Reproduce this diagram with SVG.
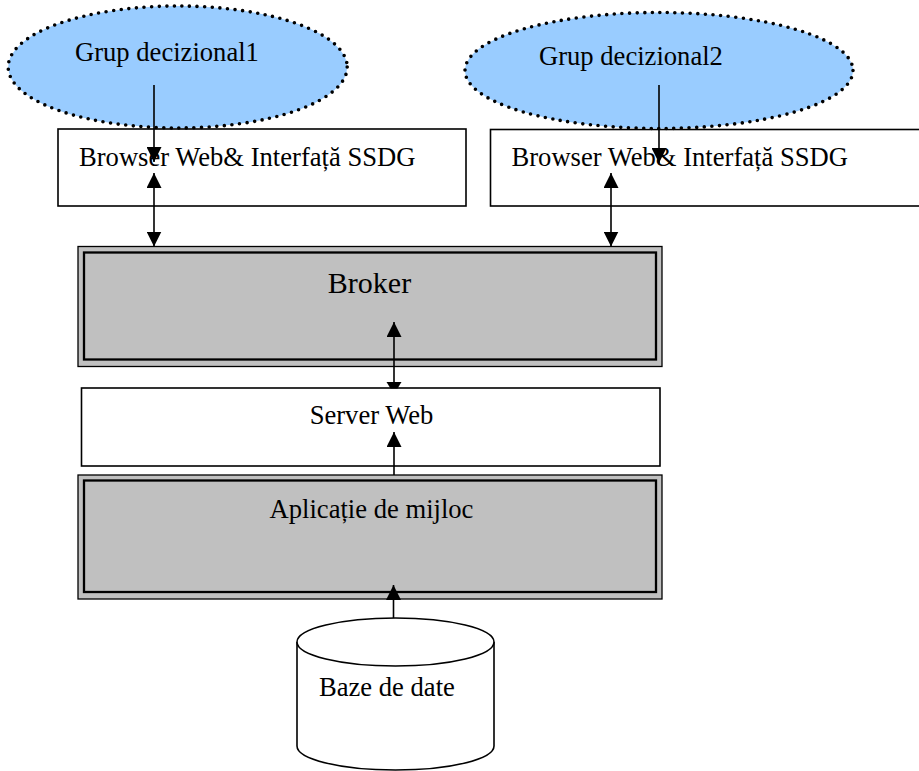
<svg xmlns="http://www.w3.org/2000/svg" width="919" height="771" viewBox="0 0 919 771">
  <style>
    .t { font-family: "Liberation Serif", "Times New Roman", serif; font-size: 26.6px; fill: #000; }
    .box { fill: #fff; stroke: #000; stroke-width: 1.6; }
    .gray-out { fill: #c0c0c0; stroke: #000; stroke-width: 1.3; }
    .gray-in { fill: #c0c0c0; stroke: #000; stroke-width: 2.3; }
    .cloud { fill: #99ccff; stroke: #000; stroke-width: 3.6; stroke-dasharray: 0 7.6; stroke-linecap: round; }
    .cyl { fill: #fff; stroke: #000; stroke-width: 1.6; }
    .conn { stroke: #000; stroke-width: 1.6; fill: none; }
    .head { fill: #000; }
  </style>
  <defs>
    <marker id="ah" markerUnits="userSpaceOnUse" markerWidth="15" markerHeight="15" refX="15" refY="7.5" orient="auto-start-reverse">
      <path d="M0,0 L15,7.5 L0,15 Z" fill="#000"/>
    </marker>
  </defs>
  <rect x="0" y="0" width="919" height="771" fill="#fff"/>

  <g id="browser1">
    <rect class="box" x="58" y="129" width="408" height="77"/>
    <text class="t" x="79" y="166">Browser Web&amp; Interfață SSDG</text>
  </g>
  <g id="browser2">
    <rect class="box" x="490.5" y="129.5" width="440" height="76.5"/>
    <text class="t" x="511.5" y="166">Browser Web&amp; Interfață SSDG</text>
  </g>
  <g id="grup1">
    <ellipse class="cloud" cx="177.7" cy="67" rx="169.5" ry="61"/>
    <text class="t" x="75" y="61">Grup decizional1</text>
  </g>
  <g id="grup2">
    <ellipse class="cloud" cx="659" cy="70.5" rx="194" ry="58"/>
    <text class="t" x="539" y="65">Grup decizional2</text>
  </g>
  <g id="broker">
    <rect class="gray-out" x="78" y="246.5" width="584" height="120"/>
    <rect class="gray-in" x="84" y="252.5" width="572" height="107"/>
    <text class="t" x="369.5" y="293.3" text-anchor="middle" style="font-size:30px">Broker</text>
  </g>
  <g id="server">
    <rect class="box" x="81.5" y="388" width="578.5" height="78"/>
    <text class="t" x="371.5" y="424" text-anchor="middle">Server Web</text>
  </g>
  <g id="aplicatie">
    <rect class="gray-out" x="78" y="475" width="584" height="124"/>
    <rect class="gray-in" x="84" y="480.5" width="572" height="111.5"/>
    <text class="t" x="371.5" y="518" text-anchor="middle">Aplicație de mijloc</text>
  </g>
  <g id="baze">
    <path class="cyl" d="M297,642 L297,746 A98.5,24 0 0 0 494,746 L494,642 A98.5,24 0 0 0 297,642 Z"/>
    <path class="cyl" d="M297,642 A98.5,24 0 0 0 494,642" fill="none"/>
    <text class="t" x="319" y="696">Baze de date</text>
  </g>

  <g id="connectors">
    <line class="conn" x1="154" y1="85" x2="154" y2="162" marker-end="url(#ah)"/>
    <line class="conn" x1="154" y1="173" x2="154" y2="246.5" marker-start="url(#ah)" marker-end="url(#ah)"/>
    <line class="conn" x1="659" y1="85" x2="659" y2="163" marker-end="url(#ah)"/>
    <line class="conn" x1="611" y1="173" x2="611" y2="246.5" marker-start="url(#ah)" marker-end="url(#ah)"/>
    <line class="conn" x1="394" y1="322" x2="394" y2="384" marker-start="url(#ah)"/>
    <path class="head" d="M386.5,382 L401.5,382 L397.5,388.5 L390.5,388.5 Z"/>
    <line class="conn" x1="394" y1="432" x2="394" y2="475" marker-start="url(#ah)"/>
    <line class="conn" x1="393.5" y1="585" x2="393.5" y2="618" marker-start="url(#ah)"/>
  </g>
</svg>
